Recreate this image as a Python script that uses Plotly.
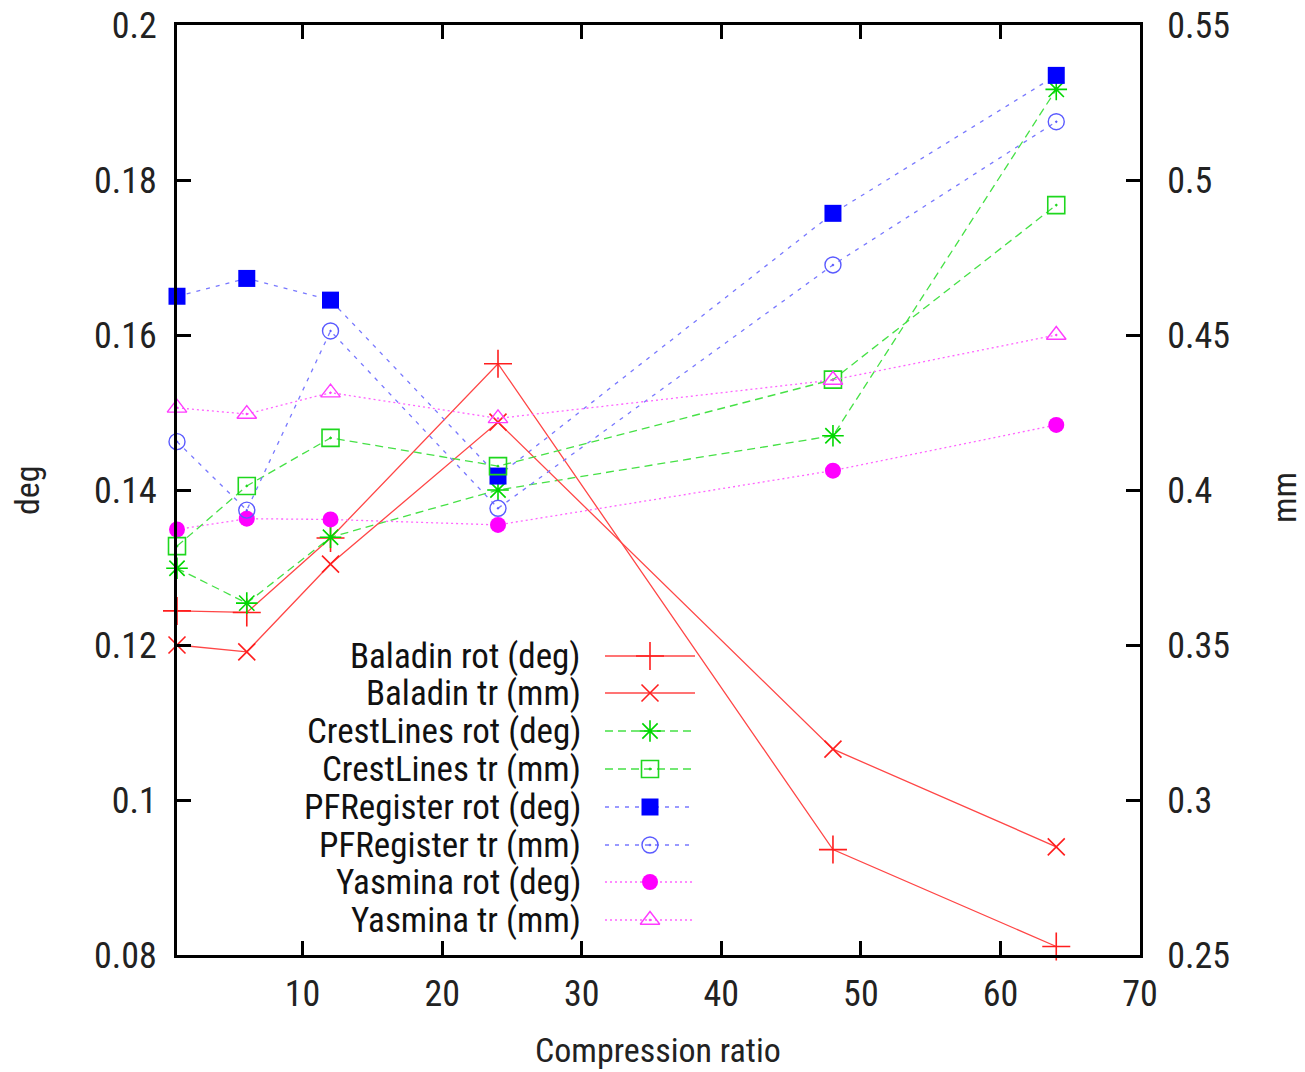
import plotly.graph_objects as go

# ---------------- data ----------------
compression = [1, 6, 12, 24, 48, 64]

baladin_rot = [0.1244, 0.1242, 0.1338, 0.1563, 0.0936, 0.0811]
baladin_tr = [0.350, 0.3478, 0.3761, 0.4219, 0.3164, 0.2849]
crest_rot = [0.1299, 0.1254, 0.1339, 0.1400, 0.1470, 0.1917]
crest_tr = [0.3819, 0.4013, 0.4168, 0.4077, 0.4356, 0.4919]
pf_rot = [0.1650, 0.1673, 0.1645, 0.1418, 0.1757, 0.1935]
pf_tr = [0.4156, 0.3935, 0.4513, 0.3941, 0.4726, 0.5188]
yas_rot = [0.1349, 0.1363, 0.1362, 0.1355, 0.1425, 0.1484]
yas_tr = [0.4265, 0.4245, 0.4314, 0.4231, 0.4355, 0.4500]

x_ticks = [10, 20, 30, 40, 50, 60, 70]
y_ticks = [0.08, 0.10, 0.12, 0.14, 0.16, 0.18, 0.20]
y_ticktext = ["0.08", "0.1", "0.12", "0.14", "0.16", "0.18", "0.2"]
y2_ticks = [0.25, 0.30, 0.35, 0.40, 0.45, 0.50, 0.55]
y2_ticktext = ["0.25", "0.3", "0.35", "0.4", "0.45", "0.5", "0.55"]

series_names = ["Baladin rot (deg)", "Baladin tr (mm)", "CrestLines rot (deg)", "CrestLines tr (mm)",
                "PFRegister rot (deg)", "PFRegister tr (mm)", "Yasmina rot (deg)", "Yasmina tr (mm)"]
series_values = [baladin_rot, baladin_tr, crest_rot, crest_tr, pf_rot, pf_tr, yas_rot, yas_tr]
series_axis = ["y", "y2", "y", "y2", "y", "y2", "y", "y2"]

# ---------------- styles ----------------
RED_L, GREEN_L, BLUE_L, MAG_L = "rgb(255,70,70)", "rgb(70,225,70)", "rgb(120,120,255)", "rgb(255,100,255)"
styles = [
    dict(lc=RED_L, dash="solid", sym="cross-thin", mc="rgb(255,30,30)", ms=20, mlw=1.6),
    dict(lc=RED_L, dash="solid", sym="x-thin", mc="rgb(255,30,30)", ms=17, mlw=1.6),
    dict(lc=GREEN_L, dash="8px,5px", sym="asterisk-open", mc="rgb(0,215,0)", ms=18, mlw=1.6),
    dict(lc=GREEN_L, dash="8px,5px", sym="square-open-dot", mc="rgb(30,215,30)", ms=17, mlw=1.6),
    dict(lc=BLUE_L, dash="4px,6px", sym="square", mc="rgb(0,0,255)", ms=17, mlw=0),
    dict(lc=BLUE_L, dash="4px,6px", sym="circle-open-dot", mc="rgb(90,90,255)", ms=16, mlw=1.4),
    dict(lc=MAG_L, dash="2px,3px", sym="circle", mc="rgb(255,0,255)", ms=16, mlw=0),
    dict(lc=MAG_L, dash="2px,3px", sym="triangle-up-open-dot", mc="rgb(255,60,255)", ms=17, mlw=1.4),
]

FONT = "Liberation Sans Narrow, Roboto Condensed, Liberation Sans, Arial, sans-serif"

# target plot area in page pixels (page has an 8px body margin)
OFF = 8
PX_L, PX_R, PX_T, PX_B = 177, 1140, 25, 955
PW, PH = PX_R - PX_L, PX_B - PX_T

def px_x(p):
    return (p - PX_L) / PW

def px_y(p):
    return (PX_B - p) / PH

fig = go.Figure()

for name, vals, ax, st in zip(series_names, series_values, series_axis, styles):
    fig.add_trace(go.Scatter(
        x=compression, y=vals, yaxis=ax, name=name, mode="lines+markers", cliponaxis=False,
        line=dict(color=st["lc"], width=1.3, dash=st["dash"]),
        marker=dict(symbol=st["sym"], size=st["ms"], color=st["mc"],
                    line=dict(color=st["mc"], width=st["mlw"])),
        showlegend=False,
    ))

# ---------------- custom legend (gnuplot style: text, then sample) ----------------
legend_rows_px = [656, 693, 731, 769, 807, 845, 882, 920]
text_right = px_x(583)
line_x0, line_xm, line_x1 = px_x(605), px_x(650), px_x(695)

for name, st, rp in zip(series_names, styles, legend_rows_px):
    yy = px_y(rp)
    fig.add_trace(go.Scatter(
        x=[line_x0, line_x1], y=[yy, yy], xaxis="x3", yaxis="y3", mode="lines",
        line=dict(color=st["lc"], width=1.3, dash=st["dash"]), showlegend=False, hoverinfo="skip"))
    fig.add_trace(go.Scatter(
        x=[line_xm], y=[yy], xaxis="x3", yaxis="y3", mode="markers",
        marker=dict(symbol=st["sym"], size=st["ms"], color=st["mc"],
                    line=dict(color=st["mc"], width=st["mlw"])),
        showlegend=False, hoverinfo="skip"))
    fig.add_annotation(x=text_right, y=yy, xref="paper", yref="paper", text=name,
                       showarrow=False, xanchor="right", yanchor="middle",
                       font=dict(family=FONT, size=35, color="#111111"))

axis_common = dict(showgrid=False, zeroline=False, showline=True, linecolor="black",
                   linewidth=3, ticks="inside", ticklen=14, tickwidth=3, tickcolor="black",
                   automargin=False, ticklabeloverflow="allow",
                   tickfont=dict(family=FONT, size=36, color="#222222"))

fig.update_layout(
    template="none",
    width=1305, height=1072,
    margin=dict(l=PX_L - OFF, r=1305 - PX_R + OFF, t=PX_T - OFF, b=1072 - PX_B + OFF, pad=0),
    paper_bgcolor="white", plot_bgcolor="white",
    xaxis=dict(range=[1, 70], tickvals=x_ticks, mirror="ticks", ticklabelstandoff=5, **axis_common),
    yaxis=dict(range=[0.08, 0.2], tickvals=y_ticks, ticktext=y_ticktext, mirror=True,
               ticklabelstandoff=10, **axis_common),
    yaxis2=dict(range=[0.25, 0.55], tickvals=y2_ticks, ticktext=y2_ticktext, overlaying="y",
                side="right", ticklabelstandoff=17, **axis_common),
    xaxis3=dict(range=[0, 1], overlaying="x", visible=False, automargin=False),
    yaxis3=dict(range=[0, 1], overlaying="y", visible=False, automargin=False),
)

fig.add_annotation(x=px_x(658), y=px_y(1050), xref="paper", yref="paper", text="Compression ratio",
                   showarrow=False, xanchor="center", yanchor="middle",
                   font=dict(family=FONT, size=34, color="#222222"))
fig.add_annotation(x=px_x(27), y=px_y(490), xref="paper", yref="paper", text="deg", showarrow=False,
                   textangle=-90, xanchor="center", yanchor="middle",
                   font=dict(family=FONT, size=34, color="#222222"))
fig.add_annotation(x=px_x(1284), y=px_y(498), xref="paper", yref="paper", text="mm", showarrow=False,
                   textangle=-90, xanchor="center", yanchor="middle",
                   font=dict(family=FONT, size=34, color="#222222"))

fig.write_html("out.html")
